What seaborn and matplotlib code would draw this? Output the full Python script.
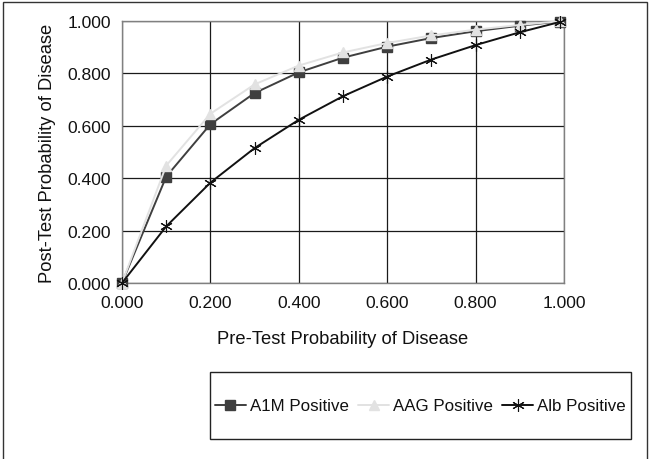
import numpy as np
import pandas as pd
import matplotlib
matplotlib.use("Agg")
import matplotlib.pyplot as plt
import seaborn as sns
from matplotlib.patches import Rectangle
from matplotlib.ticker import FormatStrFormatter, MultipleLocator

sns.set_style("white")
plt.rcParams['font.family'] = ['Liberation Sans', 'DejaVu Sans']

# Pre-test probability (x) and post-test probability for each marker
pre_test = [0.0, 0.1, 0.2, 0.3, 0.4, 0.5, 0.6, 0.7, 0.8, 0.9, 0.99]
a1m_pos = [0.0, 0.406, 0.606, 0.725, 0.804, 0.860, 0.902, 0.935, 0.961, 0.982, 0.998]
aag_pos = [0.0, 0.448, 0.646, 0.758, 0.830, 0.880, 0.916, 0.945, 0.967, 0.985, 0.999]
alb_pos = [0.0, 0.216, 0.383, 0.515, 0.623, 0.713, 0.788, 0.853, 0.908, 0.957, 0.996]

series_names = ["A1M Positive", "AAG Positive", "Alb Positive"]
series_vals = [a1m_pos, aag_pos, alb_pos]
colors = ["#3f3f3f", "#e2e2e2", "#111111"]
markers = ["s", "^", (6, 2, 0)]
msizes = [7, 7, 9]
mew = [1.0, 1.0, 0.8]

fig = plt.figure(figsize=(6.51, 4.60), dpi=100)
ax = fig.add_axes([122 / 651, 1 - 284 / 460, 442 / 651, 262 / 460])

for name, vals, c, m, ms, ew in zip(series_names, series_vals, colors, markers, msizes, mew):
    df = pd.DataFrame({"x": pre_test, "y": vals})
    sns.lineplot(data=df, x="x", y="y", ax=ax, color=c, linewidth=1.4,
                 marker=m, markersize=ms, markeredgecolor=c, markerfacecolor=c,
                 markeredgewidth=ew, label=name, clip_on=False, zorder=3)

ax.set_xlim(0, 1)
ax.set_ylim(0, 1)
ax.xaxis.set_major_locator(MultipleLocator(0.2))
ax.yaxis.set_major_locator(MultipleLocator(0.2))
ax.xaxis.set_major_formatter(FormatStrFormatter('%.3f'))
ax.yaxis.set_major_formatter(FormatStrFormatter('%.3f'))
ax.grid(True, color="#1a1a1a", linewidth=0.9)
ax.set_axisbelow(True)
for sp in ax.spines.values():
    sp.set_color("#808080")
    sp.set_linewidth(1.0)
ax.tick_params(axis='both', direction='out', length=4, width=1, color="#808080",
               labelsize=12.6, labelcolor="#111111", pad=4)
ax.tick_params(axis='x', pad=5)
ax.set_xlabel("Pre-Test Probability of Disease", fontsize=13.2, color="#111111", labelpad=14)
ax.set_ylabel("Post-Test Probability of Disease", fontsize=13.2, color="#111111", labelpad=8)

ax.get_legend().remove()
handles, labels = ax.get_legend_handles_labels()
leg = fig.legend(handles, labels, loc="center", ncol=3,
                 bbox_to_anchor=(420.5 / 651, 1 - 407 / 460),
                 fontsize=12.2, frameon=False, borderpad=0,
                 handlelength=1.85, handletextpad=0.25, columnspacing=0.5,
                 borderaxespad=0)
for t in leg.get_texts():
    t.set_color("#111111")

# legend box
fig.patches.append(Rectangle((210 / 651, 1 - 440 / 460), 421 / 651, 67 / 460,
                             transform=fig.transFigure, fill=False,
                             edgecolor="#222222", linewidth=1.0))
# outer chart border
fig.patches.append(Rectangle((3 / 651, -0.05), 644 / 651, 1.05 - 3 / 460,
                             transform=fig.transFigure, fill=False,
                             edgecolor="#333333", linewidth=1.0))

fig.savefig("out.png", dpi=100)
